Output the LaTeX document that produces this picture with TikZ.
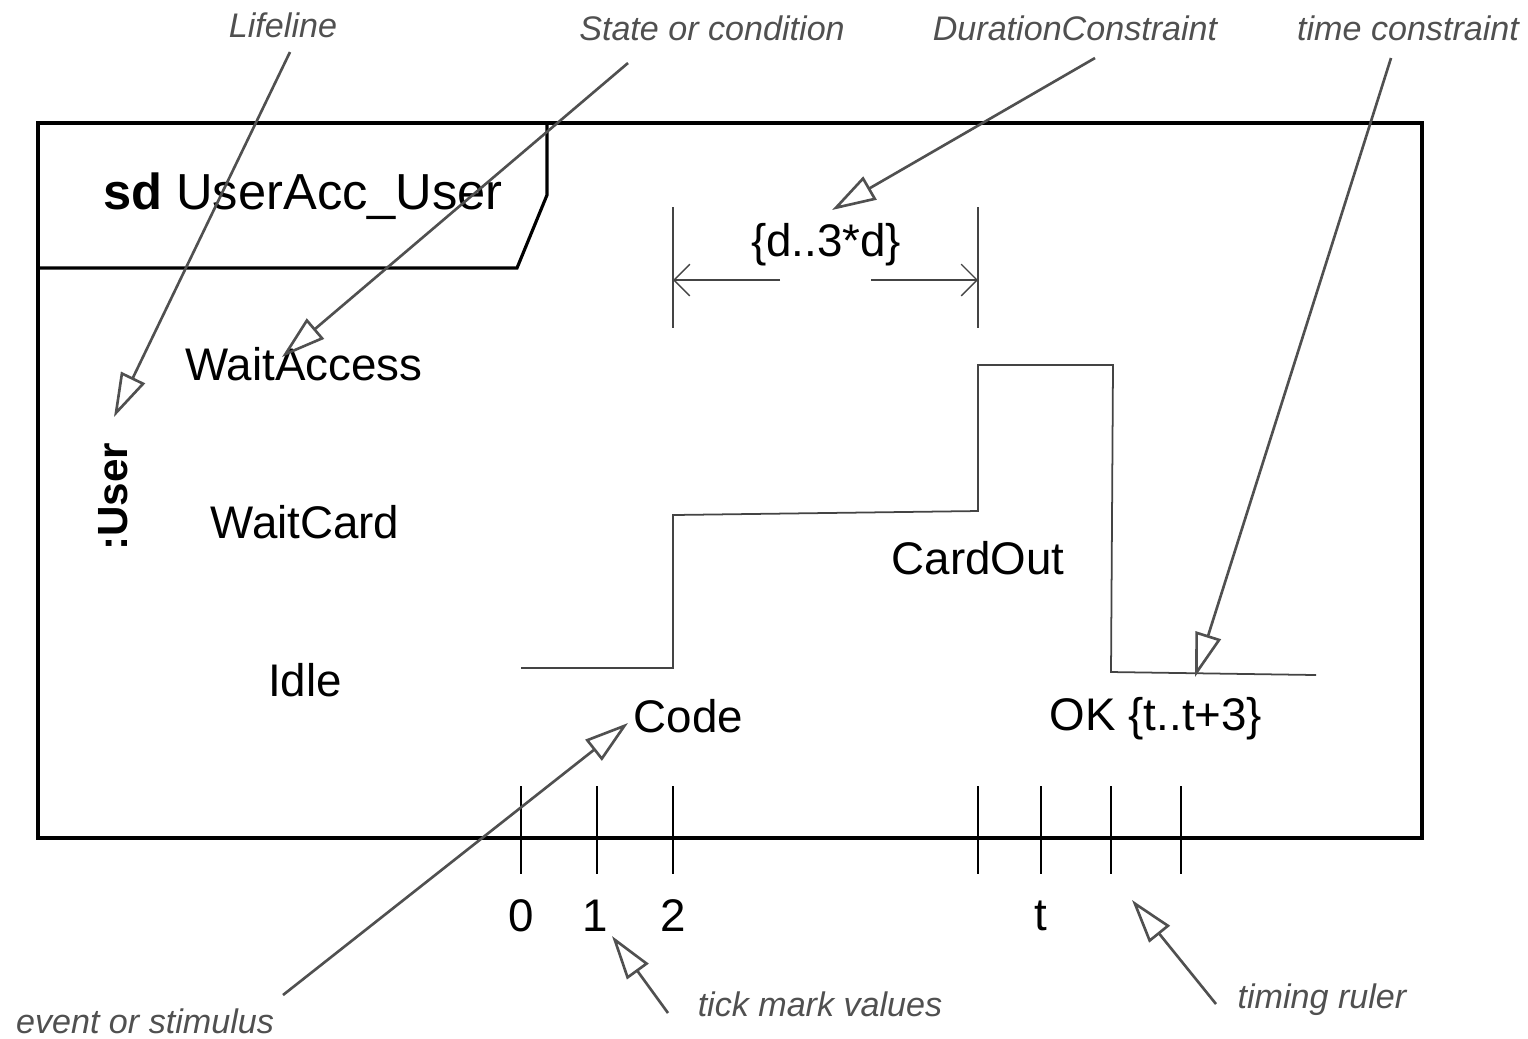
\documentclass[tikz,border=0pt]{standalone}
\usepackage{fontspec}
\setmainfont{Liberation Sans}
\usetikzlibrary{arrows.meta}
\definecolor{notegray}{HTML}{505050}
\definecolor{linegray}{HTML}{444444}

\begin{document}
\begin{tikzpicture}[x=0.01cm, y=-0.01cm,
		state/.style={font=\fontsize{13}{15}\selectfont, inner sep=0pt},
		note/.style={font=\fontsize{9.7}{11}\selectfont\itshape, text=notegray, inner sep=0pt},
		pointer/.style={draw=notegray, line width=0.75pt, -{Triangle[open, length=12.5pt, width=7.5pt, line width=0.75pt]}},
		dimline/.style={draw=linegray, line width=0.4pt},
		tickline/.style={draw, line width=0.4pt}]
		\useasboundingbox (0,0) rectangle (1528,1038);
		
		% Рамка
		\draw[line width=1.2pt] (38,123) rectangle (1422,838);
		\draw[line width=0.9pt] (38,268) -- (517,268) -- (547,195) -- (547,123);
		\node[state, font=\fontsize{14.4}{17}\selectfont] (title) at (303,196) {\textbf{sd} UserAcc\_User};
		\node[rotate=90, inner sep=0pt, font=\fontsize{12}{14}\selectfont\bfseries] (life) at (113,497) {:User};
		
		% Состояния
		\node[state] (waitaccess) at (304,364) {WaitAccess};
		\node[state] (waitcard) at (305,522) {WaitCard};
		\node[state] (idle) at (305,680) {Idle};
		
		% Сигнал
		\draw[linegray, line width=0.5pt] (521,668) -- (673,668) -- (673,515) -- (978,511) -- (978,365) -- (1113,365) -- (1111,672) -- (1316,675);
		\node[state] (cardout) at (978,558) {CardOut};
		\node[state, anchor=west] (code) at (633,716) {Code};
		\node[state] (ok) at (1156,719) {OK \{t..t+3\}};
		
		% Ограничение длительности
		\draw[dimline] (673,207) -- (673,328);
		\draw[dimline] (978,207) -- (978,328);
		\node[state] (dur) at (826,245) {\{d..3*d\}};
		\draw[dimline, -{Straight Barb[length=4.5pt, width=9pt]}] (780,280) -- (673,280);
		\draw[dimline, -{Straight Barb[length=4.5pt, width=9pt]}] (871,280) -- (978,280);
		
		% Линейка времени
		\foreach \x in {521,597,673,978,1041,1111,1181}
			\draw[tickline] (\x,786) -- (\x,874);
		\node[state] (t0) at (521,916) {0};
		\node[state] (t1) at (595,916) {1};
		\node[state] (t2) at (673,916) {2};
		\node[state] (tt) at (1041,916) {t};
		
		% Пояснения
		\node[note] (nlifeline) at (283,25) {Lifeline};
		\node[note] (nstate) at (712,28) {State or condition};
		\node[note] (nduration) at (1075,28) {DurationConstraint};
		\node[note] (ntime) at (1408,28) {time constraint};
		\node[note] (nevent) at (145,1021) {event or stimulus};
		\node[note] (ntick) at (820,1004) {tick mark values};
		\node[note] (nruler) at (1322,1000) {timing ruler};
		
		\coordinate (slifeline) at (290,52);
		\coordinate (sstate) at (628,63);
		\coordinate (sduration) at (1095,58);
		\coordinate (stime) at (1391,58);
		\coordinate (sevent) at (283,995);
		\coordinate (stick) at (668,1013);
		\coordinate (sruler) at (1216,1004);
		
		\coordinate (plifeline) at (114,417);
		\coordinate (pstate) at (282,357);
		\coordinate (pduration) at (832,210);
		\coordinate (ptime) at (1195,677);
		\coordinate (pevent) at (628,723);
		\coordinate (ptick) at (612,936);
		\coordinate (pruler) at (1132,900);
		
		\draw[pointer] (slifeline) -- (plifeline);
		\draw[pointer] (sstate) -- (pstate);
		\draw[pointer] (sduration) -- (pduration);
		\draw[pointer] (stime) -- (ptime);
		\draw[pointer] (sevent) -- (pevent);
		\draw[pointer] (stick) -- (ptick);
		\draw[pointer] (sruler) -- (pruler);
	\end{tikzpicture}
\end{document}
